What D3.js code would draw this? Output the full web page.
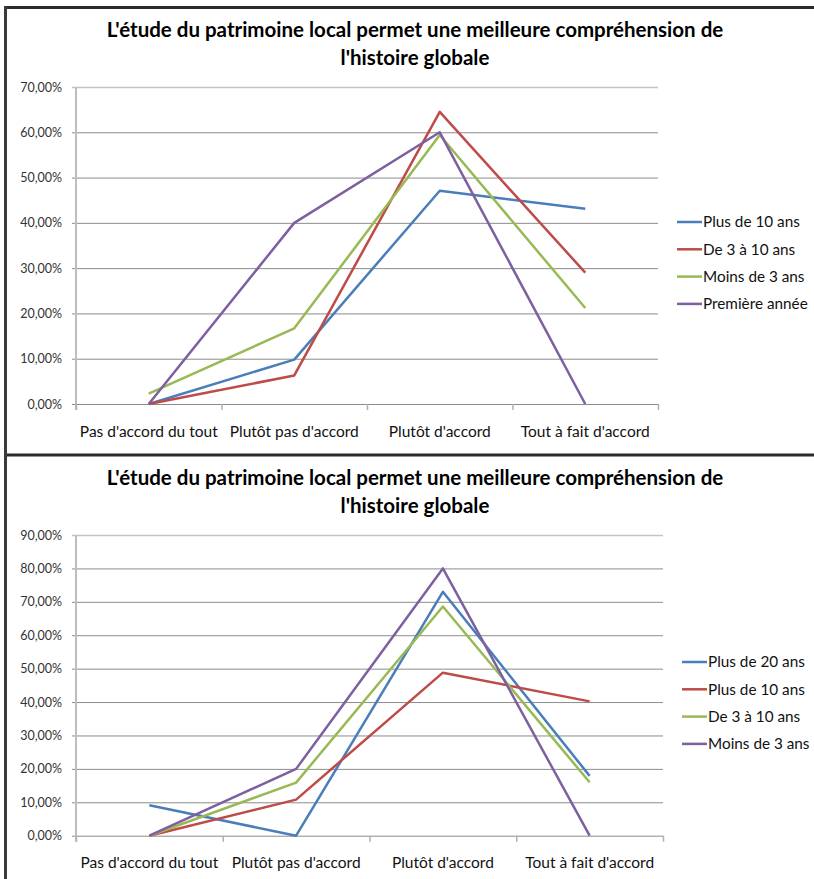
<!DOCTYPE html>
<html>
<head>
<meta charset="utf-8">
<script src="https://cdn.jsdelivr.net/npm/d3@7"></script>
<style>
  body { margin: 0; background: #fff; }
  svg { display: block; font-family: Lato, "Open Sans", sans-serif; }
  .axis .domain { display: none; }
</style>
</head>
<body>
<svg id="chart" width="814" height="879"></svg>
<script>
// categories shared by both charts
const categories = ["Pas d'accord du tout", "Plutôt pas d'accord", "Plutôt d'accord", "Tout à fait d'accord"];
const titleLines = ["L'étude du patrimoine local permet une meilleure compréhension de", "l'histoire globale"];
const colors = ["#4a7ebb", "#be4b48", "#98b954", "#7d60a0"];

// chart 1 (top)
const topSeriesNames = ["Plus de 10 ans", "De 3 à 10 ans", "Moins de 3 ans", "Première année"];
const topPlus10 = [0, 9.8, 47.1, 43.1];
const topDe3a10 = [0, 6.3, 64.5, 29.0];
const topMoins3 = [2.3, 16.7, 59.4, 21.2];
const topPremiere = [0, 40.0, 60.0, 0];
const topTicks = [0, 10, 20, 30, 40, 50, 60, 70];

// chart 2 (bottom)
const botSeriesNames = ["Plus de 20 ans", "Plus de 10 ans", "De 3 à 10 ans", "Moins de 3 ans"];
const botPlus20 = [9.1, 0, 73.0, 17.9];
const botPlus10 = [0, 10.8, 48.8, 40.2];
const botDe3a10 = [0, 15.9, 68.6, 16.0];
const botMoins3 = [0, 20.0, 80.0, 0];
const botTicks = [0, 10, 20, 30, 40, 50, 60, 70, 80, 90];

const svg = d3.select('#chart');
svg.append('rect').attr('width', 814).attr('height', 879).attr('fill', '#fff');

const fmt = v => d3.format('.2f')(v).replace('.', ',') + '%';

function drawChart(cfg) {
    const g = svg.append('g');

    // title
    const title = g.append('text')
        .attr('x', 415)
        .attr('text-anchor', 'middle')
        .style('font-weight', 'bold')
        .style('font-size', '20.5px')
        .attr('fill', '#000');
    titleLines.forEach((t, i) => {
        title.append('tspan')
            .attr('x', 415)
            .attr('y', cfg.titleY + i * 28)
            .text(t);
    });

    const x = d3.scaleBand().domain(categories).range([cfg.left, cfg.right]);
    const xEdge = d3.scaleLinear().domain([0, categories.length]).range([cfg.left, cfg.right]);
    const y = d3.scaleLinear().domain([0, d3.max(cfg.ticks)]).range([cfg.bottom, cfg.top]);

    // gridlines + y labels
    const yAxisG = g.append('g')
        .attr('class', 'axis')
        .attr('transform', `translate(${cfg.left},0)`)
        .call(d3.axisLeft(y)
            .tickValues(cfg.ticks)
            .tickSize(-(cfg.right - cfg.left))
            .tickSizeOuter(0)
            .tickPadding(14)
            .tickFormat(fmt));
    yAxisG.selectAll('.tick line')
        .attr('x1', -4)
        .attr('stroke', d => d === d3.max(cfg.ticks) ? '#c4c4c4' : '#8c8c8c')
        .attr('stroke-width', d => d === d3.max(cfg.ticks) ? 1.5 : 1);
    yAxisG.selectAll('.tick text')
        .attr('fill', '#333')
        .style('font-size', '12.5px')
        .style('font-family', 'Lato, sans-serif');

    // vertical axis line
    g.append('line')
        .attr('x1', cfg.left).attr('x2', cfg.left)
        .attr('y1', cfg.top).attr('y2', cfg.bottom + 6)
        .attr('stroke', '#bdbdbd').attr('stroke-width', 2);

    // category boundary ticks
    const xTickG = g.append('g')
        .attr('class', 'axis')
        .attr('transform', `translate(0,${cfg.bottom})`)
        .call(d3.axisBottom(xEdge).ticks(categories.length).tickSize(6).tickSizeOuter(0).tickFormat(''));
    xTickG.selectAll('.tick line').attr('stroke', '#b0b0b0').attr('stroke-width', 1.5);

    // category labels
    const xAxisG = g.append('g')
        .attr('class', 'axis')
        .attr('transform', `translate(0,${cfg.bottom})`)
        .call(d3.axisBottom(x).tickSize(0).tickPadding(cfg.labelPad));
    xAxisG.selectAll('.tick text')
        .attr('fill', '#111')
        .style('font-size', '15.5px')
        .style('font-family', 'Lato, sans-serif');

    // lines
    const line = d3.line()
        .x((d, i) => x(categories[i]) + x.bandwidth() / 2)
        .y(d => y(d));

    cfg.series.forEach((s, i) => {
        g.append('path')
            .datum(s)
            .attr('fill', 'none')
            .attr('stroke', colors[i])
            .attr('stroke-width', 2.5)
            .attr('stroke-linejoin', 'round')
            .attr('d', line);
    });

    // legend
    const legend = g.append('g')
        .attr('transform', `translate(${cfg.legendX},${cfg.legendY})`);
    cfg.names.forEach((n, i) => {
        const row = legend.append('g').attr('transform', `translate(0,${i * 27.3})`);
        row.append('line')
            .attr('x1', 0).attr('x2', 25)
            .attr('stroke', colors[i]).attr('stroke-width', 2.5);
        row.append('text')
            .attr('x', 26)
            .attr('dy', '0.35em')
            .attr('fill', '#111')
            .style('font-size', '15.3px')
            .text(n);
    });
}

drawChart({
    titleY: 37, left: 76, right: 658, top: 87, bottom: 404, labelPad: 22,
    ticks: topTicks,
    series: [topPlus10, topDe3a10, topMoins3, topPremiere],
    names: topSeriesNames,
    legendX: 677, legendY: 222
});

drawChart({
    titleY: 485, left: 76, right: 663, top: 535, bottom: 835.7, labelPad: 21,
    ticks: botTicks,
    series: [botPlus20, botPlus10, botDe3a10, botMoins3],
    names: botSeriesNames,
    legendX: 682, legendY: 662
});

// frames
svg.append('line').attr('x1', 4).attr('x2', 814).attr('y1', 7.5).attr('y2', 7.5)
    .attr('stroke', '#2b2b2b').attr('stroke-width', 3);
svg.append('line').attr('x1', 4).attr('x2', 814).attr('y1', 455).attr('y2', 455)
    .attr('stroke', '#2b2b2b').attr('stroke-width', 3);
svg.append('line').attr('x1', 5.5).attr('x2', 5.5).attr('y1', 6).attr('y2', 879)
    .attr('stroke', '#3a3a3a').attr('stroke-width', 3);
</script>
</body>
</html>
